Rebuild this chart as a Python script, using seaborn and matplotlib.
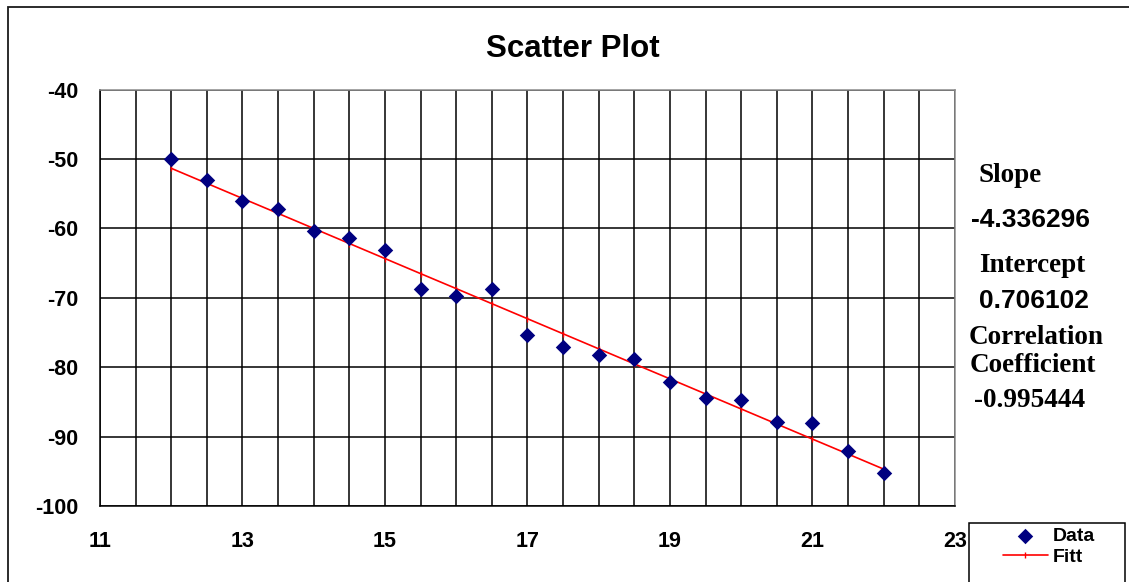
import matplotlib
matplotlib.use("Agg")
import matplotlib.pyplot as plt
import matplotlib.patches as mpatches
from matplotlib.ticker import MultipleLocator
import seaborn as sns
import pandas as pd

# ---- data ----
x_values = [12, 12.5, 13, 13.5, 14, 14.5, 15, 15.5, 16, 16.5, 17,
            17.5, 18, 18.5, 19, 19.5, 20, 20.5, 21, 21.5, 22]
data_y = [-50.0, -53.0, -56.1, -57.2, -60.3, -61.4, -63.1, -68.7, -69.8, -68.7, -75.4,
          -77.1, -78.2, -78.8, -82.2, -84.4, -84.7, -87.9, -88.1, -92.1, -95.2]
fit_y = [-51.33, -53.50, -55.67, -57.83, -60.00, -62.17, -64.34, -66.51, -68.67, -70.84, -73.01,
         -75.18, -77.35, -79.52, -81.68, -83.85, -86.02, -88.19, -90.36, -92.52, -94.69]
x_ticks = [11, 13, 15, 17, 19, 21, 23]
y_ticks = [-100, -90, -80, -70, -60, -50, -40]
title_text = "Scatter Plot"
series_labels = ["Data", "Fitt"]
stat_lines = [("Slope", "serif"), ("-4.336296", "sans"), ("Intercept", "serif"),
              ("0.706102", "sans"), ("Correlation", "serif"), ("Coefficient", "serif"),
              ("-0.995444", "serif")]

df = pd.DataFrame({"x": x_values, "data": data_y, "fit": fit_y})

sns.set_style("white")
plt.rcParams["font.family"] = ["Liberation Sans", "DejaVu Sans"]
plt.rcParams["axes.unicode_minus"] = False
plt.rcParams["text.color"] = "black"
plt.rcParams["xtick.color"] = "black"
plt.rcParams["ytick.color"] = "black"
plt.rcParams["axes.labelcolor"] = "black"

W, H = 1129, 582
fig = plt.figure(figsize=(W / 100, H / 100), dpi=100)
left, right, top, bottom = 100, 955, 89.7, 506
ax = fig.add_axes([left / W, 1 - bottom / H, (right - left) / W, (bottom - top) / H])

sns.lineplot(data=df, x="x", y="fit", ax=ax, color="#FF0000", linewidth=1.2,
             marker="|", markersize=4, markeredgewidth=1.0, markeredgecolor="#FF0000",
             label=series_labels[1], zorder=3, legend=False)
sns.scatterplot(data=df, x="x", y="data", ax=ax, marker="D", s=62, color="#000080",
                linewidth=0, label=series_labels[0], zorder=4, legend=False)

ax.set_xlim(11, 23)
ax.set_ylim(-100, -40)
ax.set_xticks(x_ticks)
ax.set_yticks(y_ticks)
ax.xaxis.set_minor_locator(MultipleLocator(0.5))
ax.set_xlabel("")
ax.set_ylabel("")
ax.set_axisbelow(True)
ax.grid(which="major", axis="both", color="black", linewidth=1.1)
ax.grid(which="minor", axis="x", color="black", linewidth=1.1)
ax.tick_params(which="minor", length=0)
ax.tick_params(which="major", length=5.8, width=1.1, direction="out", color="black",
               labelsize=15.5, labelcolor="black")
ax.tick_params(axis="x", which="major", pad=12.5)
ax.tick_params(axis="y", which="major", pad=9.5)
for lab in ax.get_xticklabels() + ax.get_yticklabels():
    lab.set_fontweight("bold")
for side in ["left", "bottom"]:
    ax.spines[side].set_color("black")
    ax.spines[side].set_linewidth(1.1)
for side in ["top", "right"]:
    ax.spines[side].set_color("#8c8c8c")
    ax.spines[side].set_linewidth(1.1)

# title
fig.text(573 / W, 1 - 56.7 / H, title_text, ha="center", va="baseline",
         fontsize=22.5, fontweight="bold", color="black",
         family=["Liberation Sans", "DejaVu Sans"])

# statistics text on the right
stat_pos = [(1010, 182), (1030, 227.3), (1032, 271.7), (1034, 308.3),
            (1036, 344), (1033, 372.3), (1030, 406.7)]
for (txt, kind), (px, py) in zip(stat_lines, stat_pos):
    if kind == "serif":
        fig.text(px / W, 1 - py / H, txt, ha="center", va="baseline", fontsize=19.5,
                 fontweight="bold", color="black",
                 family=["Liberation Serif", "DejaVu Serif"])
    else:
        fig.text(px / W, 1 - py / H, txt, ha="center", va="baseline", fontsize=19,
                 fontweight="bold", color="black",
                 family=["Liberation Sans", "DejaVu Sans"])

# outer chart frame
fig.add_artist(mpatches.Rectangle((8 / W, -0.1), 1.2, 1 - 7 / H + 0.1,
                                  transform=fig.transFigure, fill=False,
                                  edgecolor="#1a1a1a", linewidth=1.3))

# legend
handles, labels = ax.get_legend_handles_labels()
order = [labels.index(series_labels[0]), labels.index(series_labels[1])]
leg = fig.legend([handles[i] for i in order], [labels[i] for i in order],
                 loc="upper left", bbox_to_anchor=(1003 / W, 1 - 527 / H),
                 bbox_transform=fig.transFigure, frameon=False, borderpad=0,
                 borderaxespad=0, handlelength=2.31, handletextpad=0.26,
                 labelspacing=0.2, prop={"family": "Liberation Sans", "weight": "bold",
                                         "size": 14})
for t in leg.get_texts():
    t.set_color("black")
fig.add_artist(mpatches.Rectangle((969 / W, -0.1), (1125 - 969) / W, 1 - 523 / H + 0.1,
                                  transform=fig.transFigure, fill=False,
                                  edgecolor="black", linewidth=1.1))

fig.savefig("out.png", dpi=100)
